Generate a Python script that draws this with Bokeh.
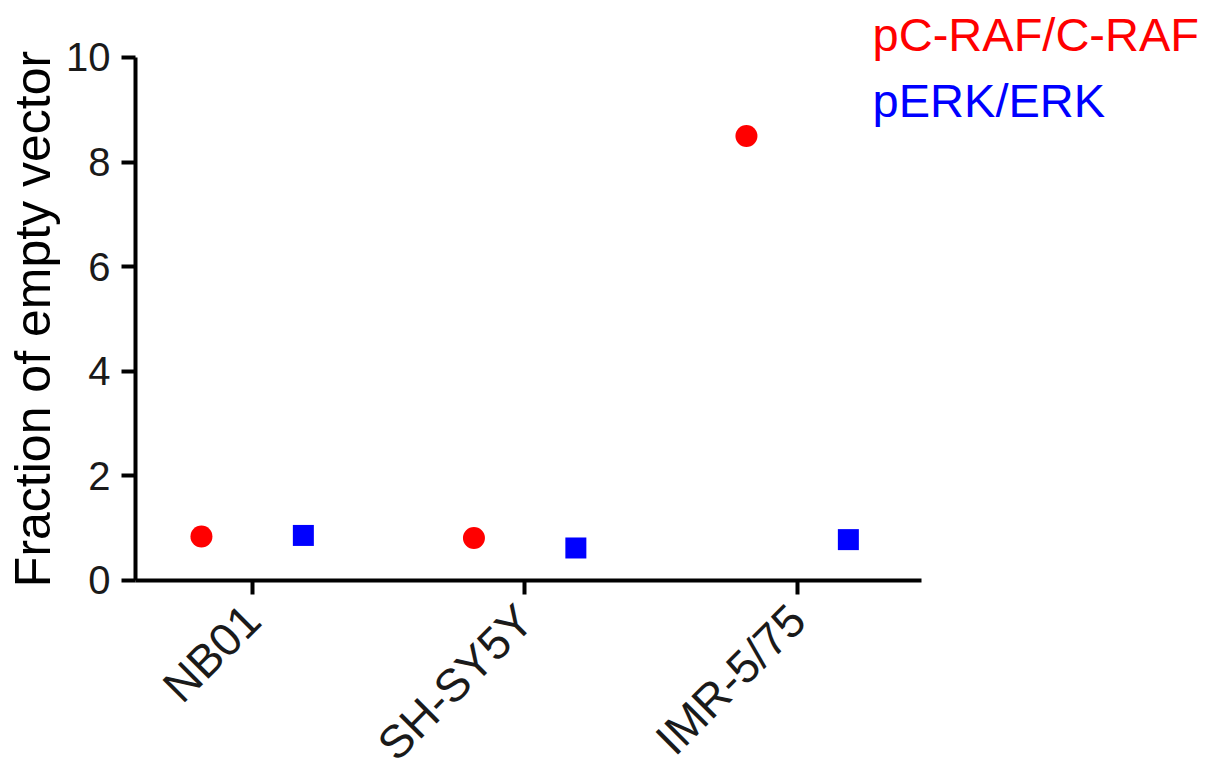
import numpy as np
from bokeh.plotting import figure
from bokeh.models import Range1d, FixedTicker, Label, ColumnDataSource
from bokeh.embed import file_html
from bokeh.resources import INLINE

# ---- data ----
categories = ["NB01", "SH-SY5Y", "IMR-5/75"]
craf_values = [0.84, 0.81, 8.50]   # pC-RAF/C-RAF
erk_values = [0.86, 0.62, 0.78]    # pERK/ERK
y_ticks = [0, 2, 4, 6, 8, 10]
series_names = ["pC-RAF/C-RAF", "pERK/ERK"]
series_colors = ["#ff0000", "#0000ff"]

pos = np.arange(1, len(categories) + 1)
offset = 0.187

FONT = "Liberation Sans"

X0, X1 = 0.571, 3.455  # extent of the drawn x axis

# frame covers the whole canvas; axes are pinned at data locations
p = figure(width=1228, height=776, output_backend="svg", toolbar_location=None,
           x_range=Range1d(0.0756, 4.582), y_range=Range1d(-3.75, 11.09),
           min_border=0)
p.outline_line_color = None
p.grid.visible = False
p.background_fill_color = "white"
p.border_fill_color = "white"

src_a = ColumnDataSource(dict(x=pos - offset, y=craf_values))
src_b = ColumnDataSource(dict(x=pos + offset, y=erk_values))
p.scatter("x", "y", source=src_a, marker="circle", size=22,
          fill_color=series_colors[0], line_color=None)
p.scatter("x", "y", source=src_b, marker="square", size=21,
          fill_color=series_colors[1], line_color=None)

# axes styling
for ax in (p.xaxis[0], p.yaxis[0]):
    ax.axis_line_width = 4
    ax.axis_line_color = "black"
    ax.major_tick_line_width = 4
    ax.major_tick_line_color = "black"
    ax.major_tick_in = 0
    ax.major_tick_out = 14
    ax.minor_tick_line_color = None
    ax.major_label_text_font = FONT
    ax.major_label_text_color = "#1a1a1a"

p.yaxis.fixed_location = X0
p.yaxis.bounds = (0, 10)
p.yaxis.ticker = FixedTicker(ticks=y_ticks)
p.yaxis.major_label_text_font_size = "40px"
p.yaxis.major_label_standoff = 11
p.yaxis.axis_label = "Fraction of empty vector"
p.yaxis.axis_label_text_font = FONT
p.yaxis.axis_label_text_font_size = "50px"
p.yaxis.axis_label_text_font_style = "normal"
p.yaxis.axis_label_text_color = "black"
p.yaxis.axis_label_standoff = 2

p.xaxis.fixed_location = 0
p.xaxis.bounds = (X0, X1)
p.xaxis.ticker = FixedTicker(ticks=list(pos))
p.xaxis.major_label_overrides = {int(i): c for i, c in zip(pos, categories)}
p.xaxis.major_label_orientation = np.pi / 4
p.xaxis.major_label_text_font_size = "46px"
p.xaxis.major_label_standoff = 18

# legend as text
for name, col, yy in zip(series_names, series_colors, [10.44, 9.17]):
    p.add_layout(Label(x=3.276, y=yy, text=name, text_color=col,
                       text_font=FONT, text_font_size="47px",
                       text_baseline="alphabetic", text_align="left"))

open("out.html", "w").write(file_html(p, INLINE))
